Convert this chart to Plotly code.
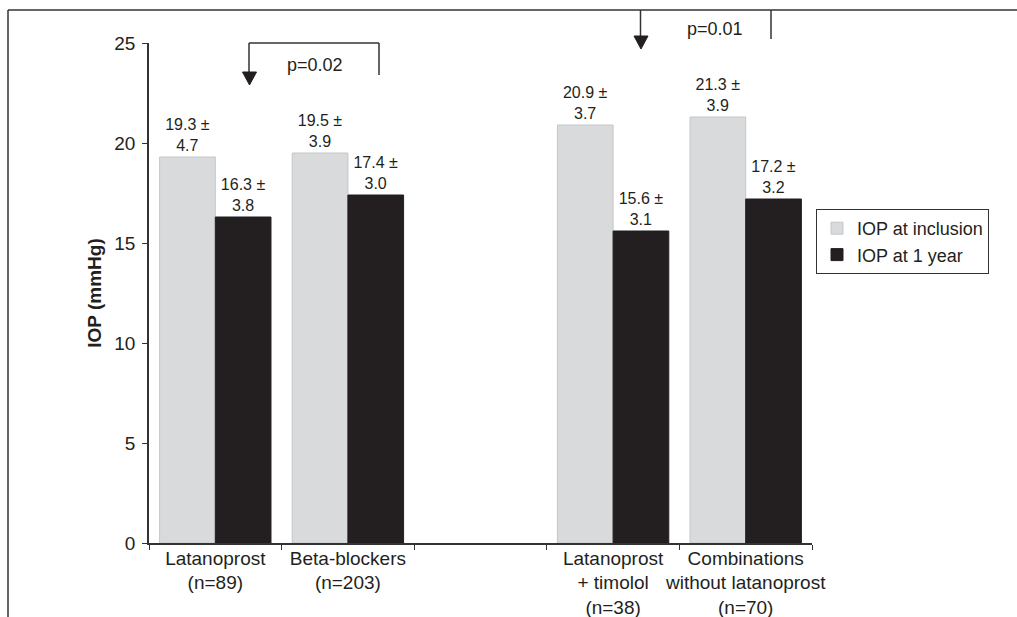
import plotly.graph_objects as go

categories = ["Latanoprost<br>(n=89)", "Beta-blockers<br>(n=203)", " ",
              "Latanoprost<br>+ timolol<br>(n=38)",
              "Combinations<br>without latanoprost<br>(n=70)"]
iop_inclusion = [19.3, 19.5, None, 20.9, 21.3]
sd_inclusion = [4.7, 3.9, None, 3.7, 3.9]
iop_1year = [16.3, 17.4, None, 15.6, 17.2]
sd_1year = [3.8, 3.0, None, 3.1, 3.2]
y_ticks = [0, 5, 10, 15, 20, 25]

FONT = "Liberation Sans, Arial, Helvetica, sans-serif"
INK = "#231f20"
LINE = "#333333"


def labels(vals, sds):
    return ["" if v is None else f"{v:.1f} ±<br>{s:.1f}" for v, s in zip(vals, sds)]


fig = go.Figure()
fig.add_trace(go.Bar(
    x=categories, y=iop_inclusion, name="IOP at inclusion",
    marker=dict(color="#d9dadc", line=dict(color="#c4c6c9", width=1)),
    text=labels(iop_inclusion, sd_inclusion), textposition="outside",
    textfont=dict(size=16, color=INK, family=FONT), constraintext="none",
    cliponaxis=False,
))
fig.add_trace(go.Bar(
    x=categories, y=iop_1year, name="IOP at 1 year",
    marker=dict(color=INK, line=dict(color=INK, width=1)),
    text=labels(iop_1year, sd_1year), textposition="outside",
    textfont=dict(size=16, color=INK, family=FONT), constraintext="none",
    cliponaxis=False,
))

L, R, T, B = 149, 205, 43, 74
W, H = 1017, 617
pw, ph = W - L - R, H - T - B


def px(x):
    return (x - L) / pw


def py(y):
    return (H - B - y) / ph


shapes = []
def line(x0, y0, x1, y1):
    shapes.append(dict(type="line", xref="paper", yref="paper",
                       x0=px(x0), y0=py(y0), x1=px(x1), y1=py(y1),
                       line=dict(color=LINE, width=1.5)))

def tri(xc, ybase, ytip, w):
    path = (f"M {px(xc - w/2)} {py(ybase)} L {px(xc + w/2)} {py(ybase)} "
            f"L {px(xc)} {py(ytip)} Z")
    shapes.append(dict(type="path", xref="paper", yref="paper", path=path,
                       fillcolor=INK, line=dict(color=INK, width=1)))

# frame
line(8, 10, W + 5, 10)
line(8, 10, 8, H + 5)
# bracket 1
line(249, 43, 379, 43)
line(249, 43, 249, 73)
line(379, 43, 379, 75)
tri(249.5, 72, 85, 14)
# bracket 2
line(640.5, 10, 640.5, 37)
line(771, 10, 771, 39)
tri(641, 36, 49, 14)

annotations = [
    dict(text="p=0.02", x=px(315), y=py(65), xref="paper", yref="paper",
         xanchor="center", yanchor="middle",
         showarrow=False, font=dict(size=18, color=INK, family=FONT)),
    dict(text="p=0.01", x=px(715), y=py(29), xref="paper", yref="paper",
         xanchor="center", yanchor="middle",
         showarrow=False, font=dict(size=18, color=INK, family=FONT)),
]

fig.update_layout(
    width=W, height=H,
    margin=dict(l=L, r=R, t=T, b=B, autoexpand=False),
    paper_bgcolor="white", plot_bgcolor="white",
    barmode="group", bargap=0.16, bargroupgap=0,
    font=dict(family=FONT, color=INK),
    shapes=shapes, annotations=annotations,
    showlegend=True,
    legend=dict(x=px(816), y=py(209), xanchor="left", yanchor="top",
                bordercolor=LINE, borderwidth=1, bgcolor="white",
                font=dict(size=18, color=INK, family=FONT),
                tracegroupgap=0, itemwidth=30),
    xaxis=dict(type="category", categoryorder="array", categoryarray=categories,
               tickson="boundaries", ticks="outside", ticklen=5, tickcolor=LINE,
               showline=True, linecolor=LINE, linewidth=1.5, showgrid=False,
               tickangle=0, automargin=False,
               tickfont=dict(size=19, color=INK, family=FONT)),
    yaxis=dict(range=[0, 25], tickvals=y_ticks, ticks="outside", ticklen=5,
               tickcolor=LINE, showline=True, linecolor=LINE, linewidth=1.5,
               showgrid=False, zeroline=False, automargin=False,
               ticklabelstandoff=3,
               tickfont=dict(size=19, color=INK, family=FONT),
               title=dict(text="<b>IOP (mmHg)</b>", standoff=8,
                          font=dict(size=19, color=INK, family=FONT))),
)

try:
    fig.update_xaxes(ticklabelstandoff=-3)
except ValueError:
    fig.update_xaxes(ticklen=3)

fig.write_html("out.html")
